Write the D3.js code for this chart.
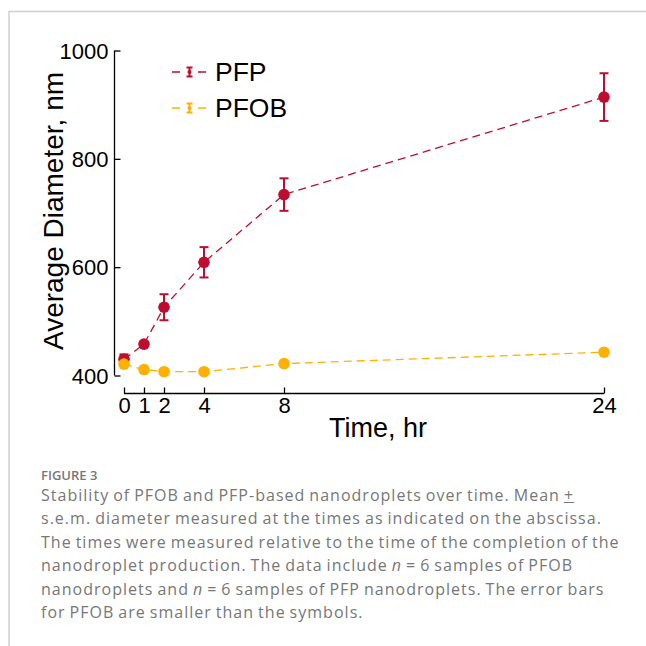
<!DOCTYPE html>
<html>
<head>
<meta charset="utf-8">
<script src="https://cdn.jsdelivr.net/npm/d3@7"></script>
<style>
  body { margin: 0; background: #fff; }
  svg { display: block; }
</style>
</head>
<body>
<svg id="chart"></svg>
<script>
// hours after production
let times = [0, 1, 2, 4, 8, 24]
let timeTicks = [0, 1, 2, 4, 8, 24]
let diameterTicks = [400, 600, 800, 1000]

// mean diameter (nm) and s.e.m.
let pfpMean = [430, 458, 526, 609, 734, 914]
let pfpErr = [9, 4, 24, 28, 30, 44]
let pfobMean = [421, 411, 407, 407, 422, 443]
let pfobErr = [3, 2, 2, 2, 2, 2]

let seriesNames = ["PFP", "PFOB"]
let seriesColors = ["#bf0d30", "#ffb000"]

let captionTitle = "FIGURE 3"
let captionLines = [
    "Stability of PFOB and PFP-based nanodroplets over time. Mean <u>+</u>",
    "s.e.m. diameter measured at the times as indicated on the abscissa.",
    "The times were measured relative to the time of the completion of the",
    "nanodroplet production. The data include <i>n</i> = 6 samples of PFOB",
    "nanodroplets and <i>n</i> = 6 samples of PFP nanodroplets. The error bars",
    "for PFOB are smaller than the symbols."
]

let width = 646
let height = 646

let svg = d3.select("#chart")
    .attr("width", width)
    .attr("height", height)

// light frame around the figure
svg.append("path")
    .attr("d", "M9,646 V11.5 H646")
    .attr("fill", "none")
    .attr("stroke", "#d0d0d0")
    .attr("stroke-width", 1.5)

let xScale = d3.scaleLinear().domain([0, 24]).range([124, 604])
let yScale = d3.scaleLinear().domain([400, 1000]).range([375.5, 50.5])

let font = "'Liberation Sans', Arial, sans-serif"

// y axis (ticks inward)
let yAxis = d3.axisLeft(yScale).tickValues(diameterTicks).tickFormat(d3.format("d")).tickSize(-6)
let gy = svg.append("g")
    .attr("transform", "translate(114.5,0)")
    .call(yAxis)
gy.attr("font-family", null).attr("font-size", null)
gy.select(".domain").attr("d", "M0,375.5 V50.5").attr("stroke-width", 1.3)
gy.selectAll(".tick line").attr("stroke-width", 1.3)
gy.selectAll(".tick text")
    .style("font-family", font)
    .style("font-size", "22px")
    .attr("fill", "#000")
    .attr("x", -6)
    .attr("dy", "0.35em")

// x axis, offset below
let xAxis = d3.axisBottom(xScale).tickValues(timeTicks).tickFormat(d3.format("d")).tickSize(-6)
let gx = svg.append("g")
    .attr("transform", "translate(0,393.5)")
    .call(xAxis)
gx.attr("font-family", null).attr("font-size", null)
gx.select(".domain").attr("d", "M124,0 H604").attr("stroke-width", 1.3)
gx.selectAll(".tick line").attr("stroke-width", 1.3)
gx.selectAll(".tick text")
    .style("font-family", font)
    .style("font-size", "22px")
    .attr("fill", "#000")
    .attr("y", 4)
    .attr("dy", "0.71em")

// axis titles
svg.append("text")
    .attr("transform", "translate(63,211) rotate(-90)")
    .attr("text-anchor", "middle")
    .style("font-family", font)
    .style("font-size", "28px")
    .text("Average Diameter, nm")

svg.append("text")
    .attr("x", 378)
    .attr("y", 437)
    .attr("text-anchor", "middle")
    .style("font-family", font)
    .style("font-size", "27px")
    .text("Time, hr")

// series drawing
let drawSeries = (means, errs, color) => {
    let pts = times.map((t, i) => ({ t: t, m: means[i], e: errs[i] }))

    svg.append("path")
        .datum(pts)
        .attr("fill", "none")
        .attr("stroke", color)
        .attr("stroke-width", 1.3)
        .attr("stroke-dasharray", "8,5")
        .attr("d", d3.line().x(d => xScale(d.t)).y(d => yScale(d.m)))

    let eb = svg.append("g").selectAll("g")
        .data(pts)
        .enter()
        .append("g")
        .attr("stroke", color)
        .attr("stroke-width", 2)

    eb.append("line")
        .attr("x1", d => xScale(d.t)).attr("x2", d => xScale(d.t))
        .attr("y1", d => yScale(d.m - d.e)).attr("y2", d => yScale(d.m + d.e))
    eb.append("line")
        .attr("x1", d => xScale(d.t) - 4.5).attr("x2", d => xScale(d.t) + 4.5)
        .attr("y1", d => yScale(d.m + d.e)).attr("y2", d => yScale(d.m + d.e))
    eb.append("line")
        .attr("x1", d => xScale(d.t) - 4.5).attr("x2", d => xScale(d.t) + 4.5)
        .attr("y1", d => yScale(d.m - d.e)).attr("y2", d => yScale(d.m - d.e))

    svg.append("g").selectAll("circle")
        .data(pts)
        .enter()
        .append("circle")
        .attr("cx", d => xScale(d.t))
        .attr("cy", d => yScale(d.m))
        .attr("r", 5.8)
        .attr("fill", color)
}

drawSeries(pfpMean, pfpErr, seriesColors[0])
drawSeries(pfobMean, pfobErr, seriesColors[1])

// legend
let legend = svg.append("g").selectAll("g")
    .data(seriesNames)
    .enter()
    .append("g")
    .attr("transform", (d, i) => "translate(172," + (72 + i * 36) + ")")

legend.append("line")
    .attr("x1", 0).attr("x2", 35)
    .attr("stroke", (d, i) => seriesColors[i])
    .attr("stroke-width", 1.5)
    .attr("stroke-dasharray", "8,18")
legend.append("path")
    .attr("d", "M14.5,-4.5 H20.5 M17.5,-4.5 V4.5 M14.5,4.5 H20.5")
    .attr("fill", "none")
    .attr("stroke", (d, i) => seriesColors[i])
    .attr("stroke-width", 2)
legend.append("circle")
    .attr("cx", 17.5).attr("r", 2)
    .attr("fill", (d, i) => seriesColors[i])
legend.append("text")
    .attr("x", 43)
    .attr("y", 9)
    .style("font-family", font)
    .style("font-size", "26.5px")
    .text(d => d)

// caption
svg.append("text")
    .attr("x", 41)
    .attr("y", 480)
    .style("font-family", "'Open Sans', sans-serif")
    .style("font-size", "13px")
    .style("font-weight", 600)
    .attr("fill", "#777")
    .text(captionTitle)

let cap = d3.select("body").append("div")
    .style("position", "absolute")
    .style("left", "41px")
    .style("top", "484px")
    .style("width", "600px")
    .style("font-family", "'Open Sans', sans-serif")
    .style("font-size", "16px")
    .style("letter-spacing", "1.02px")
    .style("word-spacing", "-1.2px")
    .style("line-height", "23.4px")
    .style("color", "#777")
    .style("white-space", "nowrap")

cap.selectAll("div")
    .data(captionLines)
    .enter()
    .append("div")
    .html(d => d)
</script>
</body>
</html>
